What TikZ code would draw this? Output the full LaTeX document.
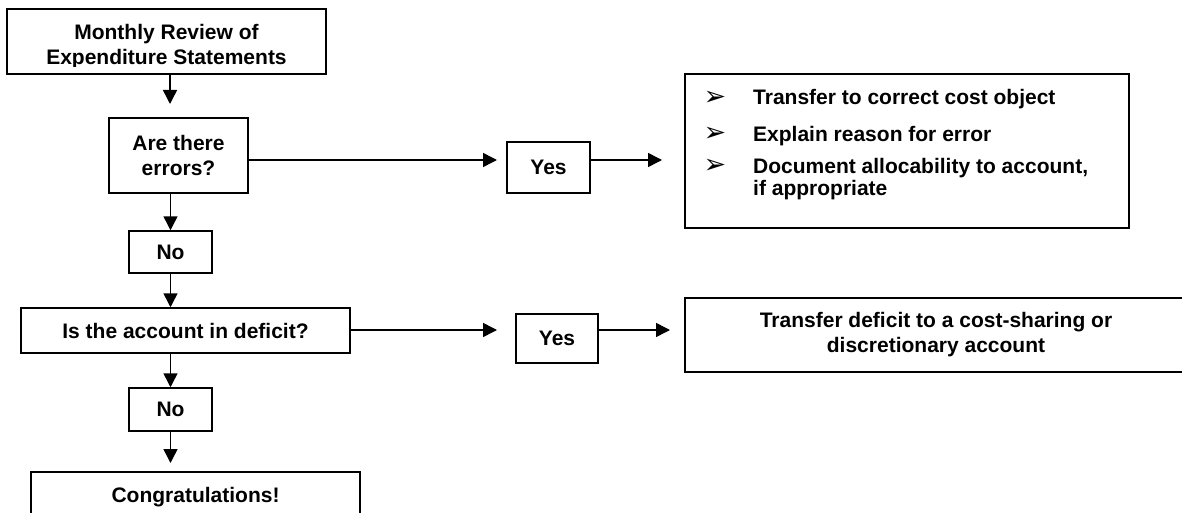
\documentclass[tikz,border=0pt]{standalone}
\usepackage{fontspec}
\setmainfont{Liberation Sans}
\newfontfamily\symfont{DejaVu Sans}
\usetikzlibrary{arrows.meta}
\tikzset{
  bx/.style={draw, line width=1.5pt, inner sep=0pt, align=center, font=\fontsize{21}{25}\selectfont\bfseries},
  txt/.style={inner sep=0pt, font=\fontsize{21}{25}\selectfont\bfseries},
  bul/.style={inner sep=0pt, font=\fontsize{27}{30}\selectfont\symfont},
  arr/.style={line width=1.5pt, -{Triangle[length=14pt,width=14pt]}},
}
\begin{document}
\begin{tikzpicture}[x=1pt,y=-1pt]
\useasboundingbox (0,0) rectangle (1182,513);
\fill[white] (0,0) rectangle (1182,513);

% top box
\node[bx, minimum width=319pt, minimum height=65pt] (top) at (166.5,41.5) {};
\begin{scope}
\clip (7,9) rectangle (326,67);
\node[txt, anchor=base] (toptext1) at (166.5,40) {Monthly Review of};
\node[txt, anchor=base] (toptext2) at (166.5,65) {Expenditure Statements};
\end{scope}

% errors
\node[bx, minimum width=139pt, minimum height=75pt] (errors) at (178.5,155.5) {Are there\\errors?};
\node[bx, minimum width=83pt, minimum height=51pt] (yes1) at (548.5,167.5) {Yes};
\node[bx, minimum width=444pt, minimum height=154pt] (box1) at (907,151) {};
\node[bul, anchor=center] (b1) at (715,98) {➢};
\node[bul, anchor=center] (b2) at (715,134) {➢};
\node[bul, anchor=center] (b3) at (715,166) {➢};
\node[txt, anchor=base west] (l1) at (753,105) {Transfer to correct cost object};
\node[txt, anchor=base west] (l2) at (753,142) {Explain reason for error};
\node[txt, anchor=base west] (l3) at (753,174) {Document allocability to account,};
\node[txt, anchor=base west] (l4) at (753,195) {if appropriate};

\node[bx, minimum width=83pt, minimum height=42pt] (no1) at (170.5,252) {No};
\node[bx, minimum width=329pt, minimum height=45pt] (deficit) at (185.5,330.5) {Is the account in deficit?};
\node[bx, minimum width=82pt, minimum height=49pt] (yes2) at (557,338.5) {Yes};
\node[bx, minimum width=502pt, minimum height=74pt] (box2) at (936,335) {Transfer deficit to a cost-sharing or\\discretionary account};
\node[bx, minimum width=83pt, minimum height=43pt] (no2) at (170.5,409.5) {No};
\node[bx, minimum width=329pt, text height=15pt, text depth=12pt, inner ysep=16pt, anchor=north] (congrats) at (195.5,471) {Congratulations!};

% arrow end points
\coordinate (e1) at (170,104);
\coordinate (e2) at (497,160);
\coordinate (e3) at (662,160);
\coordinate (e4) at (497,330);
\coordinate (e5) at (670,330);
\coordinate (e6) at (170.5,463);

\draw[arr] (e1 |- top.south) -- (e1);
\draw[arr] (errors.east |- e2) -- (e2);
\draw[arr] (yes1.east |- e3) -- (e3);
\draw[arr] (no1.north |- errors.south) -- (no1.north);
\draw[arr] (no1.south) -- (no1.south |- deficit.north);
\draw[arr] (deficit.east |- e4) -- (e4);
\draw[arr] (yes2.east |- e5) -- (e5);
\draw[arr] (no2.north |- deficit.south) -- (no2.north);
\draw[arr] (no2.south) -- (e6);
\end{tikzpicture}
\end{document}
